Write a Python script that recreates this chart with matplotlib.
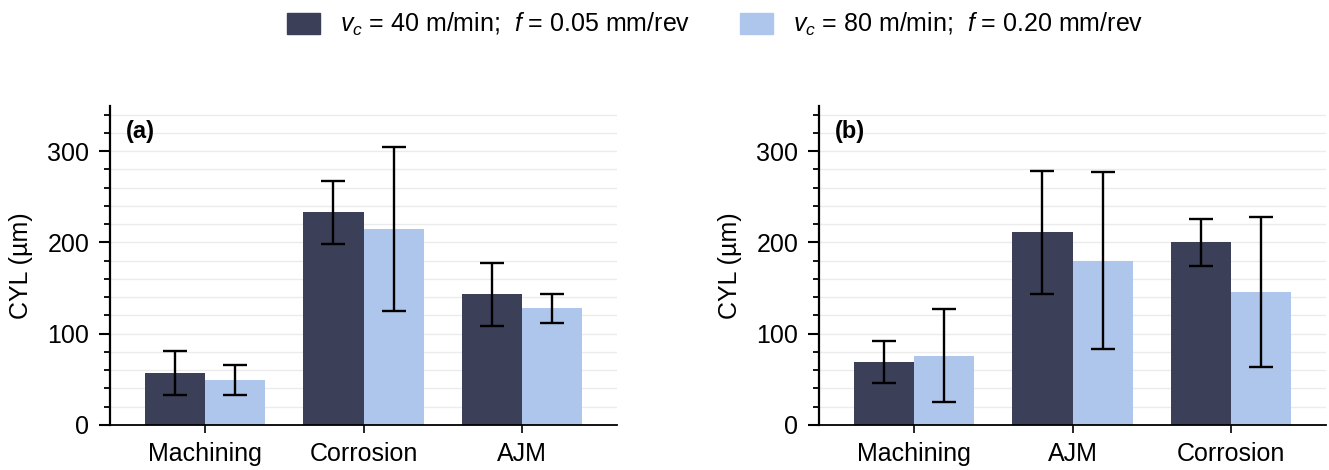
import matplotlib
matplotlib.use("Agg")
import matplotlib.pyplot as plt
from matplotlib.patches import Patch
from matplotlib.ticker import MultipleLocator
import numpy as np

plt.rcParams['font.family'] = ['Liberation Sans', 'DejaVu Sans']
plt.rcParams['mathtext.fontset'] = 'custom'
plt.rcParams['mathtext.rm'] = 'Liberation Sans'
plt.rcParams['mathtext.it'] = 'Liberation Sans:italic'

# panel (a)
cats_a = ["Machining", "Corrosion", "AJM"]
slow_a = [57, 233, 143]
slow_err_a = [24.5, 34.5, 35]
fast_a = [49, 215, 128]
fast_err_a = [16.5, 90, 16]

# panel (b)
cats_b = ["Machining", "AJM", "Corrosion"]
slow_b = [69, 211, 200]
slow_err_b = [22.5, 67.5, 25.5]
fast_b = [76, 180, 146]
fast_err_b = [51, 97, 82]

label_slow = r"$v_c$ = 40 m/min;  $f$ = 0.05 mm/rev"
label_fast = r"$v_c$ = 80 m/min;  $f$ = 0.20 mm/rev"

dark = "#3b3f58"
light = "#aec6eb"

fig = plt.figure(figsize=(13.29, 4.70), dpi=100)
W, H = 1329, 470
ax_a = fig.add_axes([110 / W, 1 - 425 / H, 507 / W, 319.5 / H])
ax_b = fig.add_axes([819 / W, 1 - 425 / H, 507 / W, 319.5 / H])


def draw_panel(ax, cats, slow, slow_err, fast, fast_err, tag):
    x = np.arange(len(cats))
    w = 0.38
    ax.bar(x - w / 2, slow, w, color=dark, zorder=2)
    ax.bar(x + w / 2, fast, w, color=light, zorder=2)
    ekw = dict(fmt="none", ecolor="black", elinewidth=1.7, capsize=8.5, capthick=1.7, zorder=3)
    ax.errorbar(x - w / 2, slow, yerr=slow_err, **ekw)
    ax.errorbar(x + w / 2, fast, yerr=fast_err, **ekw)

    ax.set_xlim(-0.6, len(cats) - 0.4)
    ax.set_ylim(0, 350)
    ax.set_xticks(x)
    ax.set_xticklabels(cats, fontsize=18)
    ax.yaxis.set_major_locator(MultipleLocator(100))
    ax.yaxis.set_minor_locator(MultipleLocator(20))
    ax.tick_params(axis="y", which="major", labelsize=18, length=8, width=1.5, pad=7)
    ax.tick_params(axis="y", which="minor", length=4.5, width=1.3)
    ax.tick_params(axis="x", length=6, width=1.2, pad=6)
    ax.grid(axis="y", which="both", color="#ebebeb", linewidth=1, zorder=0)
    ax.set_axisbelow(True)
    for s in ["top", "right"]:
        ax.spines[s].set_visible(False)
    ax.spines["left"].set_linewidth(1.6)
    ax.spines["bottom"].set_linewidth(1.3)
    ax.set_ylabel("CYL (µm)", fontsize=18)
    ax.yaxis.set_label_coords(-0.152, 0.5)
    ax.text(0.032, 0.92, tag, transform=ax.transAxes, fontsize=17,
            fontweight="bold", va="center", ha="left")


draw_panel(ax_a, cats_a, slow_a, slow_err_a, fast_a, fast_err_a, "(a)")
draw_panel(ax_b, cats_b, slow_b, slow_err_b, fast_b, fast_err_b, "(b)")

handles = [Patch(color=dark, label=label_slow), Patch(color=light, label=label_fast)]
fig.legend(handles=handles, loc="center", bbox_to_anchor=(0.538, 0.948), ncol=2,
           frameon=False, fontsize=18, handlelength=1.3, handleheight=0.9,
           handletextpad=0.8, columnspacing=2.0)

fig.savefig("out.png", dpi=100)
